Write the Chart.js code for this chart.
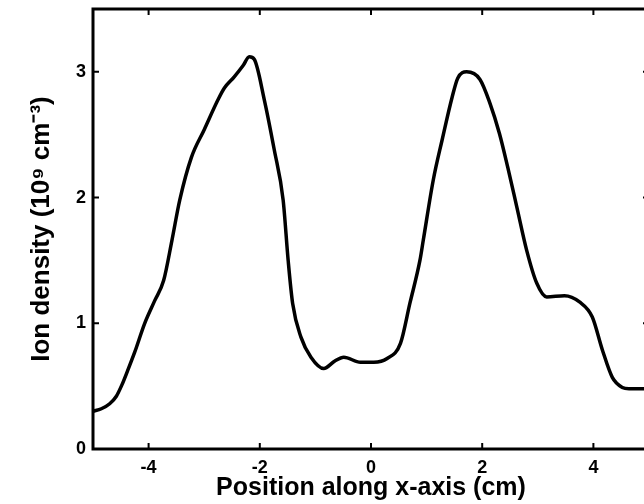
<!DOCTYPE html>
<html>
<head>
<meta charset="utf-8">
<script src="https://cdn.jsdelivr.net/npm/chart.js@4/dist/chart.umd.min.js"></script>
<style>
html, body { margin: 0; padding: 0; background: #fff; overflow: hidden; }
#wrap { width: 650px; height: 504px; }
</style>
</head>
<body>
<div id="wrap"><canvas id="myChart"></canvas></div>
<script>
// values
const posX = [-5.0, -4.85, -4.7, -4.58, -4.48, -4.38, -4.25, -4.07, -3.89, -3.73, -3.58, -3.44, -3.23, -3.0, -2.75, -2.64, -2.46, -2.3, -2.19, -2.1, -1.92, -1.74, -1.58, -1.49, -1.41, -1.26, -1.08, -0.85, -0.65, -0.49, -0.19, 0.05, 0.29, 0.53, 0.7, 0.88, 0.94, 1.12, 1.28, 1.46, 1.56, 1.72, 1.96, 2.14, 2.31, 2.46, 2.62, 2.8, 2.98, 3.16, 3.48, 3.75, 3.98, 4.16, 4.34, 4.52, 4.64, 5.0];
const density = [0.30, 0.32, 0.36, 0.42, 0.51, 0.62, 0.77, 1.00, 1.18, 1.34, 1.66, 1.98, 2.32, 2.54, 2.78, 2.87, 2.96, 3.05, 3.12, 3.10, 2.78, 2.38, 1.98, 1.50, 1.16, 0.89, 0.73, 0.64, 0.70, 0.73, 0.69, 0.69, 0.72, 0.84, 1.16, 1.50, 1.66, 2.14, 2.46, 2.80, 2.95, 3.00, 2.94, 2.75, 2.51, 2.24, 1.93, 1.58, 1.32, 1.21, 1.22, 1.17, 1.05, 0.79, 0.57, 0.49, 0.48, 0.48];
const xTicks = [-4, -2, 0, 2, 4];
const yTicks = [0, 1, 2, 3];

const points = posX.map((x, i) => ({ x: x, y: density[i] }));

// frame on all four sides with ticks pointing inward
const frame = {
    id: 'frame',
    afterDraw(chart) {
        const ctx = chart.ctx;
        const a = chart.chartArea;
        const sx = chart.scales.x, sy = chart.scales.y;
        ctx.save();
        ctx.strokeStyle = '#000';
        ctx.lineWidth = 3;
        ctx.strokeRect(a.left, a.top, a.right - a.left, a.bottom - a.top);
        ctx.lineWidth = 2;
        ctx.beginPath();
        xTicks.forEach(v => {
            const px = sx.getPixelForValue(v);
            ctx.moveTo(px, a.bottom); ctx.lineTo(px, a.bottom - 6);
            ctx.moveTo(px, a.top); ctx.lineTo(px, a.top + 6);
        });
        yTicks.forEach(v => {
            const py = sy.getPixelForValue(v);
            ctx.moveTo(a.left, py); ctx.lineTo(a.left + 6, py);
            ctx.moveTo(a.right, py); ctx.lineTo(a.right - 6, py);
        });
        ctx.stroke();
        ctx.restore();
    }
};

new Chart(document.getElementById('myChart'), {
    type: 'scatter',
    data: {
        datasets: [{
            data: points,
            showLine: true,
            borderColor: '#000',
            borderWidth: 3.5,
            pointRadius: 0,
            cubicInterpolationMode: 'monotone'
        }]
    },
    options: {
        responsive: true,
        maintainAspectRatio: false,
        animation: false,
        layout: { padding: { top: 9, right: 1, left: 0, bottom: 0 } },
        plugins: {
            legend: { display: false },
            tooltip: { enabled: false }
        },
        scales: {
            x: {
                type: 'linear',
                min: -5,
                max: 5,
                afterBuildTicks: s => { s.ticks = xTicks.map(v => ({ value: v })); },
                afterFit: s => { s.height = 55; s.paddingLeft = 0; s.paddingRight = 0; },
                grid: { display: false, drawTicks: false },
                border: { display: false },
                ticks: {
                    color: '#000',
                    padding: 8,
                    font: { family: 'Liberation Sans', size: 18, weight: 'bold' }
                },
                title: {
                    display: true,
                    text: 'Position along x-axis (cm)',
                    color: '#000',
                    padding: { top: 0, bottom: 1 },
                    font: { family: 'Liberation Sans', size: 25, weight: 'bold' }
                }
            },
            y: {
                min: 0,
                max: 3.5,
                afterBuildTicks: s => { s.ticks = yTicks.map(v => ({ value: v })); },
                afterFit: s => { s.width = 93; s.paddingTop = 0; s.paddingBottom = 0; },
                grid: { display: false, drawTicks: false },
                border: { display: false },
                ticks: {
                    color: '#000',
                    padding: 7,
                    font: { family: 'Liberation Sans', size: 18, weight: 'bold' }
                },
                title: {
                    display: true,
                    text: 'Ion density (10⁹ cm⁻³)',
                    color: '#000',
                    padding: { top: 26, bottom: 0 },
                    font: { family: 'Liberation Sans', size: 26, weight: 'bold' }
                }
            }
        }
    },
    plugins: [frame]
});
</script>
</body>
</html>
